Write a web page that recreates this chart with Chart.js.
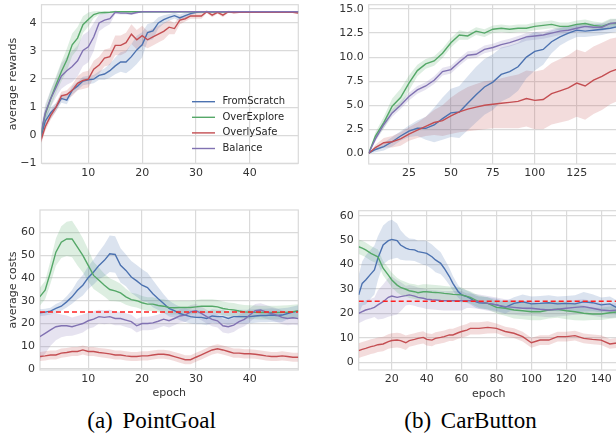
<!DOCTYPE html>
<html><head><meta charset="utf-8">
<script src="https://cdn.jsdelivr.net/npm/chart.js@4.4.0/dist/chart.umd.min.js"></script>
<style>
html,body{margin:0;padding:0;background:#fff;overflow:hidden;width:616px;height:435px;}
#wrap{position:relative;width:616px;height:435px;overflow:hidden;}
canvas{position:absolute;}
.cap{position:absolute;width:220px;text-align:center;font-family:'Liberation Serif',serif;font-size:23px;line-height:23px;color:#000;word-spacing:4px;white-space:nowrap;}
</style></head><body>
<div id="wrap">
<canvas id="tl" width="308" height="200" style="left:0;top:0;width:308px;height:200px"></canvas>
<canvas id="tr" width="340" height="200" style="left:308px;top:0;width:340px;height:200px"></canvas>
<canvas id="bl" width="308" height="200" style="left:0;top:205px;width:308px;height:200px"></canvas>
<canvas id="br" width="340" height="200" style="left:308px;top:205px;width:340px;height:200px"></canvas>
<div class="cap" style="left:41.5px;top:408.5px">(a) PointGoal</div>
<div class="cap" style="left:360.5px;top:408.5px">(b) CarButton</div>
</div>
<script>
// ---------- series names & colours ----------
const seriesNames = ['FromScratch','OverExplore','OverlySafe','Balance'];
const seriesColors = ['#4C72B0','#55A868','#C44E52','#8172B2'];
const costLimit = 25;

// ---------- (a) PointGoal : average rewards ----------
const tlX = [1,2,3,4,5,6,7,8,9,10,11,12,13,14,15,16,17,18,19,20,21,22,23,24,25,26,27,28,29,30,31,32,33,34,35,36,37,38,39,40,41,42,43,44,45,46,47,48,49];
const tlScratch = [-0.2,0.5,0.8,1.0,1.31,1.25,1.6,1.75,1.93,1.97,2.0,2.13,2.18,2.3,2.47,2.61,2.61,2.8,3.04,3.22,3.66,3.72,4.0,4.12,4.2,4.26,4.18,4.26,4.33,4.38,4.4,4.4,4.4,4.4,4.4,4.4,4.4,4.4,4.4,4.4,4.4,4.4,4.4,4.4,4.4,4.4,4.4,4.4,4.4];
const tlScratchSd = [0.2,0.2,0.2,0.15,0.15,0.15,0.15,0.15,0.15,0.15,0.15,0.15,0.2,0.25,0.3,0.35,0.4,0.45,0.5,0.45,0.3,0.3,0.2,0.15,0.12,0.1,0.12,0.1,0.06,0.04,0.02,0.02,0.02,0.02,0.02,0.02,0.02,0.02,0.02,0.02,0.02,0.02,0.02,0.02,0.02,0.02,0.02,0.02,0.02];
const tlExplore = [-0.15,0.75,1.3,1.8,2.27,2.68,3.22,3.46,3.94,4.12,4.3,4.36,4.37,4.38,4.4,4.4,4.4,4.4,4.4,4.4,4.4,4.4,4.4,4.4,4.4,4.4,4.4,4.4,4.4,4.4,4.4,4.4,4.4,4.4,4.4,4.4,4.4,4.4,4.4,4.4,4.4,4.4,4.4,4.4,4.4,4.4,4.4,4.4,4.4];
const tlExploreSd = [0.15,0.25,0.3,0.3,0.35,0.4,0.4,0.4,0.3,0.25,0.12,0.07,0.05,0.03,0.02,0.02,0.02,0.02,0.02,0.02,0.02,0.02,0.02,0.02,0.02,0.02,0.02,0.02,0.02,0.02,0.02,0.02,0.02,0.02,0.02,0.02,0.02,0.02,0.02,0.02,0.02,0.02,0.02,0.02,0.02,0.02,0.02,0.02,0.02];
const tlSafe = [-0.3,0.3,0.7,1.0,1.4,1.45,1.6,1.85,1.95,2.0,2.35,2.5,2.75,2.8,3.2,3.2,3.3,3.6,3.4,3.55,3.4,3.5,3.6,3.7,3.85,3.8,4.1,4.15,4.25,4.25,4.25,4.4,4.28,4.38,4.28,4.4,4.37,4.38,4.38,4.38,4.38,4.38,4.38,4.38,4.38,4.38,4.38,4.38,4.35];
const tlSafeSd = [0.15,0.15,0.15,0.15,0.15,0.15,0.2,0.25,0.3,0.3,0.3,0.3,0.3,0.3,0.35,0.35,0.35,0.35,0.35,0.35,0.3,0.3,0.3,0.3,0.25,0.2,0.15,0.1,0.1,0.1,0.1,0.05,0.08,0.05,0.08,0.04,0.04,0.03,0.03,0.03,0.03,0.03,0.03,0.03,0.03,0.03,0.03,0.03,0.03];
const tlBalance = [-0.1,0.8,1.3,1.7,2.11,2.3,2.45,2.65,3.02,3.15,3.5,4.0,4.1,4.15,4.38,4.35,4.35,4.33,4.37,4.4,4.4,4.4,4.4,4.4,4.4,4.4,4.4,4.4,4.4,4.4,4.4,4.4,4.4,4.4,4.4,4.4,4.4,4.4,4.4,4.4,4.4,4.4,4.4,4.4,4.4,4.4,4.4,4.4,4.4];
const tlBalanceSd = [0.2,0.3,0.3,0.35,0.45,0.5,0.55,0.55,0.55,0.55,0.5,0.3,0.25,0.2,0.06,0.05,0.05,0.05,0.04,0.02,0.02,0.02,0.02,0.02,0.02,0.02,0.02,0.02,0.02,0.02,0.02,0.02,0.02,0.02,0.02,0.02,0.02,0.02,0.02,0.02,0.02,0.02,0.02,0.02,0.02,0.02,0.02,0.02,0.02];
const tlXTicks = [10,20,30,40];
const tlYTicks = [-1,0,1,2,3,4];

// ---------- (b) CarButton : average rewards ----------
const trX = [1,5,10,15,20,25,30,35,40,45,50,55,60,65,70,75,80,85,90,95,100,105,110,115,120,125,130,135,140,145,150];
const trScratch = [0,0.4,0.7,1.2,1.8,2.3,2.6,2.6,2.95,3.6,4.2,4.3,5.2,6.1,6.9,7.4,8.2,8.5,9.0,10.0,10.6,10.8,11.6,12.1,12.5,12.8,12.7,12.8,12.9,13.0,13.2];
const trScratchSd = [0,0.3,0.4,0.5,0.5,0.6,0.8,1.2,1.8,2.2,2.5,2.7,2.8,2.9,2.9,2.9,2.8,2.7,2.5,2.2,2.0,1.6,1.2,0.9,0.8,0.7,0.6,0.6,0.6,0.5,0.5];
const trExplore = [0,1.8,3.2,4.9,5.8,7.3,8.6,9.3,9.6,10.4,11.5,12.3,12.2,12.7,12.5,12.9,13.0,12.9,13.0,13.0,13.2,13.3,13.4,13.2,13.2,13.4,13.5,13.3,13.2,13.5,13.5];
const trExploreSd = [0,0.4,0.6,0.8,0.9,0.8,0.6,0.5,0.5,0.5,0.5,0.5,0.4,0.4,0.4,0.4,0.4,0.4,0.4,0.4,0.4,0.4,0.4,0.4,0.4,0.4,0.4,0.4,0.4,0.5,0.5];
const trSafe = [0,0.6,1.1,1.2,1.5,2.0,2.4,2.8,3.2,3.4,3.9,4.3,4.6,4.8,5.0,5.1,5.2,5.3,5.4,5.7,5.5,5.6,6.2,6.5,6.8,7.3,7.0,7.6,8.0,8.5,8.8];
const trSafeSd = [0,0.3,0.5,0.6,0.7,0.7,0.8,1.0,1.3,1.6,1.9,2.1,2.3,2.4,2.5,2.5,2.6,2.7,2.8,2.9,3.0,3.1,3.2,3.3,3.4,3.5,3.5,3.5,3.5,3.4,3.3];
const trBalance = [0,1.5,3.0,4.2,5.0,5.9,6.6,7.0,7.6,8.5,8.7,9.5,10.2,10.3,10.8,11.0,11.3,11.5,11.8,12.1,12.2,12.3,12.5,12.7,12.8,13.0,13.2,13.1,13.1,13.5,13.6];
const trBalanceSd = [0,0.3,0.4,0.4,0.4,0.4,0.4,0.4,0.4,0.4,0.4,0.4,0.4,0.4,0.4,0.4,0.4,0.4,0.4,0.4,0.4,0.4,0.4,0.4,0.4,0.4,0.4,0.4,0.4,0.4,0.4];
const trXTicks = [25,50,75,100,125];
const trYTicks = [0,2.5,5,7.5,10,12.5,15];

// ---------- (a) PointGoal : average costs ----------
const blX = tlX;
const blScratch = [24.7,25,25.4,26.6,27.6,29.5,31.7,34.6,36.8,40.1,42.6,45.5,47.7,50.6,50.3,45.5,43.3,40.4,38.7,36.8,35.8,33.1,30.9,28.8,26.6,25.6,24.4,23.7,23,22.7,22.7,22.2,23.3,23,23,22.2,23,23,23,23,23.3,23.5,23.5,23.7,23.5,23.7,24.4,25,25.5];
const blScratchSd = [1.5,1.5,1.5,2,2,2.5,3,4,4.5,5,5.5,6,7,8,8,7.5,7,7,7,7,6.5,6,5,4,3.5,3,3,3,3,3,3,3,3,3,3,3,3,3,3,3,3,3,3,3,3,3,2.5,2.5,2.5];
const blExplore = [31.7,34.6,42.6,51.3,55.7,57.1,57.1,53.5,49.9,45.5,41.1,39,36.8,34.9,34.3,33.4,31.7,30.5,30,29.1,28.5,28.5,27.9,27.6,27,26.9,27,27,27,27.3,27.6,27.6,27.6,27.3,26.6,26.2,26,25.5,25.1,25,24.9,24.8,24.8,24.8,24.8,24.9,25,25.2,25.5];
const blExploreSd = [4,4,5,6,7,7.5,8,8,7.5,7,6,5.5,5,5,4.5,4,3.5,3,3,3,3,3,3,3,3,3,3,3,3,3,3,3,3,3,3,3,3,3,3,3,3,3,3,3,3,3,3,3,3];
const blSafe = [5.5,5.8,6.2,6.2,7,7.3,7.7,7.7,8.4,7.7,7.7,7.3,7,6.7,6.2,6.2,5.8,5.5,5.5,5.8,5.8,6.2,6.5,6.5,6.2,5.5,4.8,4.1,4.1,5.2,6.2,7.3,8.4,8.9,8.4,7.7,7,7,6.7,6.7,6.5,6.2,5.8,5.5,5.5,5.8,5.5,5.2,5.2];
const blSafeSd = [2,2,2,2,2,2,2,2,2,2,2,2,2,2,2,2,2,2,2,2,2,2,2,2,2,2,2,2,2,2,2,2,2,2,2,2,2,2,2,2,2,2,2,2,2,2,2,2,2];
const blBalance = [14.2,15.7,17.2,18.6,19,19,18.6,19.3,20,21.2,21.9,23,22.7,23,22.2,22.2,21.5,20.8,19,20,20,20.3,21,21.9,21.2,22.2,23.3,23.7,25.1,25.6,24.4,23,21.8,21.2,19,18.6,19.3,20.8,21.8,23.7,25.6,25.9,25.1,24.4,23.7,22.7,22.2,22.5,22.2];
const blBalanceSd = [10,9,7,6,5,4.5,4,4,4,3.5,3.5,3,3,3,3,3,3,3,3,3,3,3,3,3,3,3,3,3,3,3,3,3,3,3,3,3,3,3,3,3,3,3,3,3,3,3,3,3,3];
const blXTicks = [10,20,30,40];
const blYTicks = [0,10,20,30,40,50,60];

// ---------- (b) CarButton : average costs ----------
const brX = [1,3,5,8,10,12,15,18,20,23,25,28,30,33,35,38,40,43,45,48,50,53,55,58,60,63,65,68,70,75,80,85,90,95,100,105,110,115,120,125,130,135,140,145,150];
const brScratch = [27.6,32.3,33.7,36.2,37.8,42.6,48,49.8,50.3,49.8,48,46.7,46.2,46,45.3,44.9,44.6,43.2,41.9,40.5,38.5,35.1,32.3,29,27.6,26.9,26.2,24.8,24.4,24.1,23.5,22.5,24.1,24.8,23.9,24.1,24.4,23.9,24.1,23.9,24.8,24.4,23.5,23.9,22];
const brScratchSd = [8,9,10,10,10,9,8,8,8,7,6,5,4.5,4.5,4.5,5,5,5,5,4.5,4,3.5,3,2.5,2.5,2.5,2.5,2.5,2.5,2.5,2.5,2.5,2.5,3,3,3,3,3,3,3.5,4,3.5,3,3,3];
const brExplore = [47.3,46.7,46,44.6,43.9,43.2,38.5,35.7,33.7,31.6,30.7,29.9,29.3,28.9,28.5,28.9,28.9,28.7,28.6,28.4,28.2,28,27.8,27.7,27.6,27,26.6,25.5,24.8,24.1,22.5,22.1,21.4,21.1,20.7,20.7,21.4,21.7,21.1,20.7,20.1,19.8,19.8,20.3,20.7];
const brExploreSd = [3,3,3,3,3,3,3,3,3,3,3,3,3,3,3,3,3,3,3,3,3,3,3,3,3,2.5,2.5,2.5,2.5,2.5,2.5,3,3.5,3.5,3.5,3.5,3.5,3.5,3.5,3.5,3,2.5,2.5,2.5,2.5];
const brSafe = [4.8,5.3,5.7,6.4,6.7,7.2,7.5,8.5,8.9,9.1,8.9,8,8.9,9.4,9.8,10.2,9.4,9.1,9.8,10.2,10.5,11.2,11.2,12.1,12.6,13.2,13.9,13.9,13.9,14.3,13.9,12.6,11.9,10.5,8,9.1,9.1,10.5,10.5,10.9,9.8,9.4,9.1,7.5,8];
const brSafeSd = [3,3,3,3,3,3,3,3,3,3,3,3,2.5,2.5,2.5,2.5,2.5,2.5,2.5,2.5,2.5,2.5,2.5,2.5,2.5,2.5,2.5,2.5,2.5,2.5,2,2,2,2,2,2,2,2,2,2,2,2,2,2,2];
const brBalance = [20,20.7,21.4,22,22.5,23.5,24.8,26.6,27.1,26.6,26.9,27.3,27.6,27.1,26.6,26.2,25.8,25.6,25.5,25.3,25.2,25.2,25.2,25.2,25.2,25.2,25.2,25,24.8,24.1,23.5,22.8,22.5,22.1,22.1,21.7,21.4,21.7,22.1,22.5,22.8,22.1,21.4,21.1,21.4];
const brBalanceSd = [4,4,4,4,4,6,7,8,8,7,6,4,4,4,4,4,4,4,4,4,4,4,4,4,4,3,3,3,3,3,3,3,3,3,3,3,3,3,3,3,3,3,3,3,3];
const brXTicks = [20,40,60,80,100,120,140];
const brYTicks = [0,10,20,30,40,50,60];

// ---------- styling ----------
const GRID = '#dadada';
const TICK = '#333333';
Chart.defaults.font.family = "'DejaVu Sans', sans-serif";
Chart.defaults.font.size = 11;
Chart.defaults.color = TICK;

function rgba(hex, a) {
  const n = parseInt(hex.slice(1), 16);
  return `rgba(${(n>>16)&255},${(n>>8)&255},${n&255},${a})`;
}
function fmtNum(v, dec) {
  const s = dec ? Math.abs(v).toFixed(dec) : String(Math.abs(v));
  return v < 0 ? '\u2212' + s : s;
}

const framePlugin = {
  id: 'frame',
  beforeDatasetsDraw(chart) {
    const {ctx, chartArea: a} = chart;
    ctx.save();
    ctx.strokeStyle = GRID; ctx.lineWidth = 1.2;
    ctx.strokeRect(a.left, a.top, a.right - a.left, a.bottom - a.top);
    ctx.restore();
  }
};
const legendPlugin = {
  id: 'inlegend',
  afterDatasetsDraw(chart, args, opts) {
    if (!opts || !opts.show) return;
    const ctx = chart.ctx;
    ctx.save();
    ctx.font = "10px 'DejaVu Sans', sans-serif";
    ctx.textBaseline = 'middle';
    ctx.fillStyle = '#262626';
    opts.items.forEach((it, i) => {
      const y = opts.y0 + i * opts.dy;
      ctx.strokeStyle = it.color; ctx.lineWidth = 1.4;
      ctx.beginPath(); ctx.moveTo(opts.x0, y); ctx.lineTo(opts.x0 + opts.len, y); ctx.stroke();
      ctx.fillText(it.name, opts.tx, y);
    });
    ctx.restore();
  }
};

function makeChart(id, c) {
  const ds = [];
  c.series.forEach((s) => {
    const lo = c.x.map((xv, j) => ({x: xv, y: s.mean[j] - s.sd[j]}));
    const hi = c.x.map((xv, j) => ({x: xv, y: s.mean[j] + s.sd[j]}));
    ds.push({data: lo, borderWidth: 0, pointRadius: 0, fill: false, order: 100, borderColor: 'rgba(0,0,0,0)'});
    ds.push({data: hi, borderWidth: 0, pointRadius: 0, fill: '-1', backgroundColor: rgba(s.color, 0.2), order: 100, borderColor: 'rgba(0,0,0,0)'});
  });
  c.series.forEach((s, i) => {
    ds.push({label: s.name, data: c.x.map((xv, j) => ({x: xv, y: s.mean[j]})), borderColor: s.color, borderWidth: 1.4, pointRadius: 0, fill: false, order: 10 - i});
  });
  if (c.limit != null) {
    ds.push({data: [{x: c.xMin, y: c.limit}, {x: c.xMax, y: c.limit}], borderColor: '#ff2020', borderDash: [5, 3], borderWidth: 1.5, pointRadius: 0, fill: false, order: 0});
  }
  const b = c.box;
  return new Chart(document.getElementById(id), {
    type: 'line',
    data: {datasets: ds},
    options: {
      responsive: false, animation: false, devicePixelRatio: 1, events: [],
      elements: {line: {tension: 0}},
      layout: {padding: {left: 0, top: b.caT, right: b.w - b.caR, bottom: 0}},
      plugins: {legend: {display: false}, tooltip: {enabled: false}, inlegend: c.legend || {show: false}},
      scales: {
        x: {
          type: 'linear', min: c.xMin, max: c.xMax,
          afterBuildTicks: a => { a.ticks = c.xTicks.map(v => ({value: v})); },
          afterFit: a => { a.height = b.h - b.caB; a.paddingLeft = 0; a.paddingRight = 0; },
          grid: {color: GRID, lineWidth: 1.2, drawTicks: false},
          border: {display: false},
          ticks: {padding: 3, color: TICK, maxRotation: 0, autoSkip: false, callback: v => fmtNum(v, 0)},
          title: c.xTitle ? {display: true, text: c.xTitle, color: TICK, font: {size: 11}, padding: {top: 0, bottom: c.xTitlePad}} : {display: false}
        },
        y: {
          type: 'linear', min: c.yMin, max: c.yMax,
          afterBuildTicks: a => { a.ticks = c.yTicks.map(v => ({value: v})); },
          afterFit: a => { a.width = b.caL; a.paddingTop = 0; a.paddingBottom = 0; },
          grid: {color: GRID, lineWidth: 1.2, drawTicks: false},
          border: {display: false},
          ticks: {padding: 5, color: TICK, autoSkip: false, callback: v => fmtNum(v, c.yDec)},
          title: c.yTitle ? {display: true, text: c.yTitle, color: TICK, font: {size: 11}, padding: {top: c.yTitlePad, bottom: 0}} : {display: false}
        }
      }
    },
    plugins: [framePlugin, legendPlugin]
  });
}

function seriesList(a, b, cc, d, sa, sb, sc, sd) {
  const means = [a, b, cc, d], sds = [sa, sb, sc, sd];
  return seriesNames.map((n, i) => ({name: n, color: seriesColors[i], mean: means[i], sd: sds[i]}));
}

makeChart('tl', {
  x: tlX, xMin: 1.3, xMax: 49, yMin: -1, yMax: 4.65, xTicks: tlXTicks, yTicks: tlYTicks, yDec: 0,
  series: seriesList(tlScratch, tlExplore, tlSafe, tlBalance, tlScratchSd, tlExploreSd, tlSafeSd, tlBalanceSd),
  box: {w: 308, h: 200, caL: 41.5, caT: 4.7, caR: 298.3, caB: 163.3},
  yTitle: 'average rewards', yTitlePad: 6.4,
  legend: {show: true, x0: 192, len: 23, tx: 222.5, y0: 101.7, dy: 15.6,
           items: seriesNames.map((n, i) => ({name: n, color: seriesColors[i]}))}
});
makeChart('tr', {
  x: trX, xMin: 1, xMax: 150, yMin: -1.11, yMax: 15.45, xTicks: trXTicks, yTicks: trYTicks, yDec: 1,
  series: seriesList(trScratch, trExplore, trSafe, trBalance, trScratchSd, trExploreSd, trSafeSd, trBalanceSd),
  box: {w: 340, h: 200, caL: 60.7, caT: 4.7, caR: 310.7, caB: 164}
});
makeChart('bl', {
  x: blX, xMin: 1.05, xMax: 49, yMin: -0.4, yMax: 69.8, xTicks: blXTicks, yTicks: blYTicks, yDec: 0,
  series: seriesList(blScratch, blExplore, blSafe, blBalance, blScratchSd, blExploreSd, blSafeSd, blBalanceSd),
  box: {w: 308, h: 200, caL: 40, caT: 5, caR: 298.3, caB: 165},
  yTitle: 'average costs', yTitlePad: 6.2, xTitle: 'epoch', xTitlePad: 5.1, limit: costLimit
});
makeChart('br', {
  x: brX, xMin: 1, xMax: 150, yMin: -3.15, yMax: 62.05, xTicks: brXTicks, yTicks: brYTicks, yDec: 0,
  series: seriesList(brScratch, brExplore, brSafe, brBalance, brScratchSd, brExploreSd, brSafeSd, brBalanceSd),
  box: {w: 340, h: 200, caL: 50.7, caT: 5.7, caR: 310.6, caB: 165},
  xTitle: 'epoch', xTitlePad: 4.4, limit: costLimit
});
</script>
</body></html>
